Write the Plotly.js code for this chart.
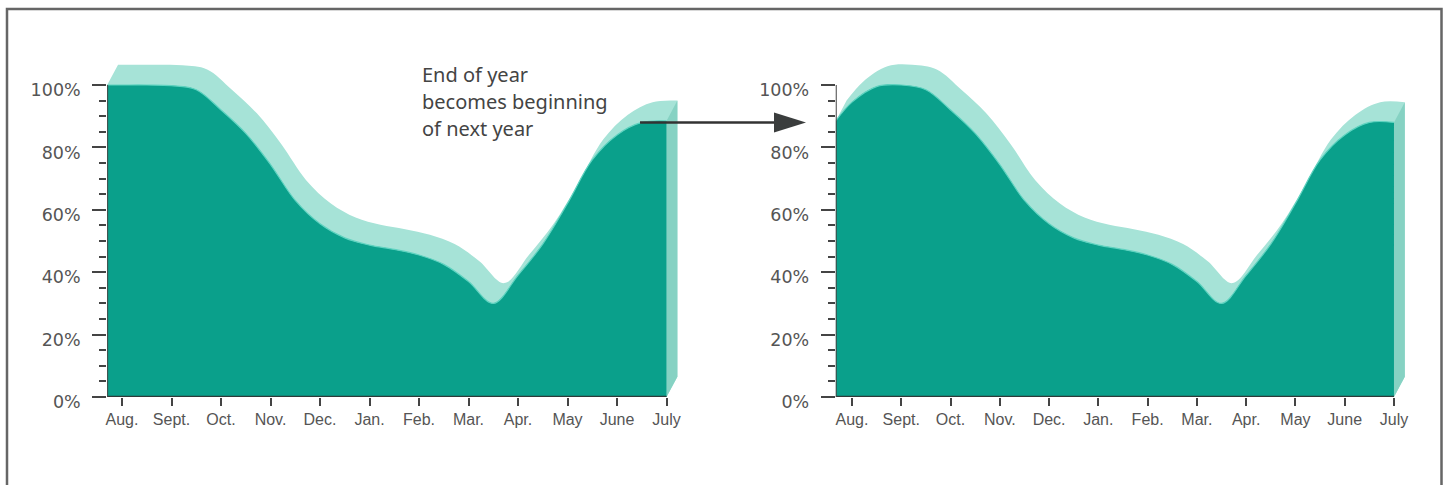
<!DOCTYPE html>
<html><head><meta charset="utf-8">
<script src="https://cdn.plot.ly/plotly-3.0.1.min.js"></script>
<style>html,body{margin:0;padding:0;background:#fff}#chart{width:1448px;height:485px}</style>
</head><body><div id="chart"></div>
<script>
// ---- data ----
const monthLabels = ["Aug.","Sept.","Oct.","Nov.","Dec.","Jan.","Feb.","Mar.","Apr.","May","June","July"];
const monthPos = [0,1,2,3,4,5,6,7,8,9,10,11];
const pctTicks = [0,20,40,60,80,100];
const pctLabels = ["0%","20%","40%","60%","80%","100%"];
const minorPctTicks = [5,10,15,25,30,35,45,50,55,65,70,75,85,90,95];

// Year 1 (left panel): month position -> percent
const year1X = [-0.3, 0, 0.5, 1, 1.5, 2, 2.5, 3, 3.5, 4, 4.5, 5, 5.5, 6, 6.5, 7, 7.5, 8, 8.5, 9, 9.5, 10, 10.5, 11];
const year1Y = [100, 100, 100, 99.8, 98.5, 92, 84.5, 74.5, 63, 55.5, 51, 48.7, 47.3, 45.5, 42.5, 37, 30, 39, 49, 62, 76, 84, 88, 88.5];
// Year 2 (right panel): starts where year 1 ended
const year2X = [-0.33, 0, 0.5, 1, 1.5, 2, 2.5, 3, 3.5, 4, 4.5, 5, 5.5, 6, 6.5, 7, 7.5, 8, 8.5, 9, 9.5, 10, 10.5, 11];
const year2Y = [88.5, 94.5, 99.5, 100, 98.5, 92, 84.5, 74.5, 63, 55.5, 51, 48.7, 47.3, 45.5, 42.5, 37, 30, 39, 49, 62, 76, 84, 88, 88];

const annotationLines = ["End of year", "becomes beginning", "of next year"];

// ---- style ----
const W = 1448, H = 485;
const DARK = '#0aa08b', LIGHT = '#a6e3d7', SIDE = '#86d2c3', EDGE = '#5fd3c0';
const DX = 0.22, DY = 6.5; // extrusion depth (axis units)
const px = v => v / W, py = v => 1 - v / H;

function panel(xs, ys, xa, ya) {
  const n = xs.length - 1;
  const x0 = xs[0], y0 = ys[0], xN = xs[n], yN = ys[n];
  const common = {xaxis: xa, yaxis: ya, hoverinfo: 'skip', showlegend: false};
  return [
    Object.assign({x: [x0, x0, xN, xN + DX], y: [y0, 0, 0, DY], mode: 'lines',
      line: {width: 0, color: 'rgba(0,0,0,0)'}}, common),
    Object.assign({x: xs.map(v => v + DX), y: ys.map(v => v + DY), mode: 'lines',
      line: {width: 0, shape: 'spline', smoothing: 1, color: LIGHT}, fill: 'tonexty', fillcolor: LIGHT}, common),
    Object.assign({x: [xN, xN, xN + DX, xN + DX], y: [0, yN, yN + DY, DY], mode: 'lines',
      line: {width: 0, color: SIDE}, fill: 'toself', fillcolor: SIDE}, common),
    Object.assign({x: xs, y: ys, mode: 'lines',
      line: {width: 1.2, shape: 'spline', smoothing: 1, color: EDGE}, fill: 'tozeroy', fillcolor: DARK}, common)
  ];
}

const data = panel(year1X, year1Y, 'x', 'y').concat(panel(year2X, year2Y, 'x2', 'y2'));

const xRange1 = [-0.3, 11.45], xRange2 = [-0.33, 11.45];
const L1 = {aug: 122, step: 49.5}, L2 = {aug: 852, step: 49.27};
const yRange = [0, 110], zeroPy = 397, perPct = 3.12;
const yDomain = [py(zeroPy), py(zeroPy - perPct * yRange[1])];

function xax(r, g) {
  return {range: r, domain: [px(g.aug + r[0] * g.step), px(g.aug + r[1] * g.step)],
    showgrid: false, zeroline: false, showline: false, fixedrange: true,
    tickmode: 'array', tickvals: monthPos, ticktext: monthLabels,
    ticks: 'outside', ticklen: 8, tickwidth: 2, tickcolor: '#444',
    ticklabelstandoff: 0,
    tickfont: {family: 'Liberation Sans, Arial, sans-serif', size: 16, color: '#555'}};
}
function yax(anchor) {
  return {range: yRange, domain: yDomain, anchor: anchor,
    showgrid: false, zeroline: false, showline: false, fixedrange: true,
    tickmode: 'array', tickvals: pctTicks, ticktext: pctLabels,
    ticks: 'outside', ticklen: 14, tickwidth: 2, tickcolor: '#444',
    ticklabelstandoff: 8, ticklabelshift: 5,
    minor: {tickmode: 'array', tickvals: minorPctTicks, ticks: 'outside', ticklen: 7, tickwidth: 2, tickcolor: '#444'},
    tickfont: {family: 'DejaVu Sans, sans-serif', size: 17.5, color: '#555'}};
}

const AX = '#2e3a39';
const shapes = [
  // frame
  {type: 'rect', xref: 'paper', yref: 'paper', x0: px(7), x1: px(1441.5), y0: -0.05, y1: py(9),
   line: {color: '#666', width: 2.5}, fillcolor: 'rgba(0,0,0,0)', layer: 'above'},
  // axis lines
  {type: 'line', xref: 'x', yref: 'y', x0: year1X[0], x1: 11, y0: 0, y1: 0, line: {color: AX, width: 2.5}},
  {type: 'line', xref: 'x', yref: 'y', x0: year1X[0], x1: year1X[0], y0: 0, y1: 100, line: {color: '#444', width: 2}},
  {type: 'line', xref: 'x2', yref: 'y2', x0: year2X[0], x1: 11, y0: 0, y1: 0, line: {color: AX, width: 2.5}},
  {type: 'line', xref: 'x2', yref: 'y2', x0: year2X[0], x1: year2X[0], y0: 0, y1: 100, line: {color: '#444', width: 2}},
  // arrow
  {type: 'line', xref: 'paper', yref: 'paper', x0: px(640), x1: px(780), y0: py(122.5), y1: py(122.5),
   line: {color: '#333', width: 2.5}},
  {type: 'path', xref: 'paper', yref: 'paper',
   path: `M ${px(806)},${py(122.5)} L ${px(774)},${py(112.5)} L ${px(774)},${py(132.5)} Z`,
   fillcolor: '#3a3d3d', line: {width: 0}}
];

const textY = [74, 101.5, 129];
const annotations = annotationLines.map((t, i) => ({
  text: t, xref: 'paper', yref: 'paper', x: px(420), y: py(textY[i]),
  xanchor: 'left', yanchor: 'middle', showarrow: false,
  font: {family: 'Noto Sans, sans-serif', size: 20, color: '#444'}
}));

const layout = {
  width: W, height: H, margin: {l: 0, r: 0, t: 0, b: 0},
  paper_bgcolor: '#fff', plot_bgcolor: 'rgba(0,0,0,0)', showlegend: false,
  xaxis: xax(xRange1, L1), yaxis: yax('x'),
  xaxis2: Object.assign(xax(xRange2, L2), {anchor: 'y2'}), yaxis2: yax('x2'),
  shapes: shapes, annotations: annotations
};
layout.xaxis.anchor = 'y';

Plotly.newPlot('chart', data, layout, {displayModeBar: false, staticPlot: true});
</script></body></html>
